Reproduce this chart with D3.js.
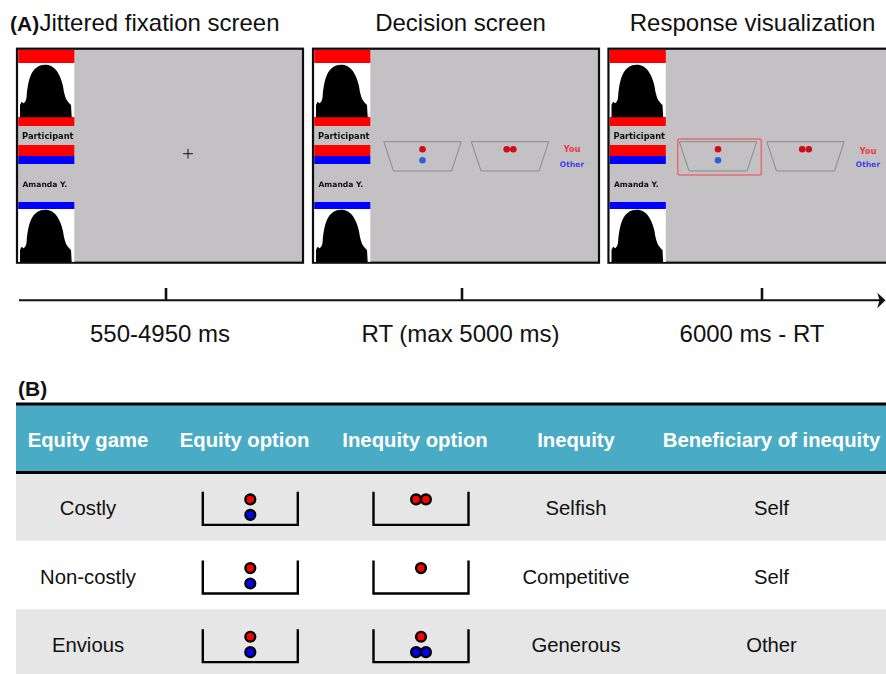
<!DOCTYPE html>
<html>
<head>
<meta charset="utf-8">
<script src="https://cdn.jsdelivr.net/npm/d3@7"></script>
<style>
  html, body { margin: 0; padding: 0; background: #fff; overflow: hidden; }
  svg { display: block; }
  text { font-family: "Liberation Sans", Arial, sans-serif; fill: #111; }
</style>
</head>
<body>
<svg width="886" height="674"></svg>
<script>
// panel A
let screenTitles = ["Jittered fixation screen", "Decision screen", "Response visualization"];
let timeLabels = ["550-4950 ms", "RT (max 5000 ms)", "6000 ms - RT"];
let playerNames = ["Participant", "Amanda Y."];
let legendNames = ["You", "Other"];

// panel B
let columns = ["Equity game", "Equity option", "Inequity option", "Inequity", "Beneficiary of inequity"];
let games = ["Costly", "Non-costly", "Envious"];
let inequity = ["Selfish", "Competitive", "Generous"];
let beneficiary = ["Self", "Self", "Other"];

// tokens in each option, [you, other]
let equityTokens = [[1, 1], [1, 1], [1, 1]];
let inequityTokens = [[2, 0], [1, 0], [1, 2]];

let svg = d3.select("svg");

let screenX = d3.scaleOrdinal().domain(screenTitles).range([16, 312, 607.5]);
let titleX = d3.scaleOrdinal().domain(screenTitles).range([159.5, 460.5, 752.5]);
let tickX = d3.scaleOrdinal().domain(timeLabels).range([166, 462, 762]);
let labelX = d3.scaleOrdinal().domain(timeLabels).range([160, 460.5, 752]);

let colX = d3.scaleOrdinal().domain(columns).range([88, 244.5, 415, 576, 771.5]);
let bucketX = d3.scaleOrdinal().domain(columns).range([88, 250.3, 421, 576, 771.5]);
let rowY = d3.scaleBand().domain(games).range([472, 678]);

// head outline, local to its white box
let silhouette = [[1.7, 41], [3.7, 37.7], [5, 39.3], [7.7, 36], [8.7, 27.7], [10.4, 17.7], [13.7, 8.7], [17.7, 4], [22.7, 1.3], [27, 0.7], [32.7, 2], [37.7, 6], [41.7, 12.7], [44.4, 21], [46, 29.3], [48.4, 36], [52.7, 41]];
let head = d3.line().curve(d3.curveCatmullRom);

let defs = svg.append("defs");
defs.append("clipPath").attr("id", "page")
  .append("rect").attr("width", 886).attr("height", 674);
defs.append("filter").attr("id", "soft")
  .attr("x", "-2%").attr("y", "-2%").attr("width", "104%").attr("height", "104%")
  .append("feGaussianBlur").attr("stdDeviation", 0.35);

// titles
svg.append("text").attr("x", 10).attr("y", 31)
  .style("font-size", "21px").style("font-weight", "bold").text("(A)");
svg.append("g").selectAll("text").data(screenTitles).join("text")
  .attr("x", (d) => titleX(d)).attr("y", 31)
  .attr("text-anchor", "middle")
  .style("font-size", "24px")
  .text((d) => d);

// screens
screenTitles.forEach((title, s) => {
  let g = svg.append("g")
    .attr("transform", `translate(${screenX(title)},48)`)
    .attr("filter", "url(#soft)");

  g.append("rect").attr("x", 1).attr("y", 0.7).attr("width", 286).attr("height", 214)
    .style("fill", "#c4c1c5").style("stroke", "#0a0a0a").style("stroke-width", 2.2);

  let side = g.append("g").attr("transform", "translate(2.3,0)");
  let bands = [
    [2, 15, "#ff0000"], [15, 69, "#ffffff"], [69, 78, "#ff0000"],
    [97, 108, "#ff0000"], [108, 116, "#0000ff"],
    [154, 161, "#0000ff"], [161, 214, "#ffffff"]
  ];
  side.selectAll("rect").data(bands).join("rect")
    .attr("x", 0).attr("width", 56)
    .attr("y", (d) => d[0]).attr("height", (d) => d[1] - d[0])
    .style("fill", (d) => d[2]);

  side.selectAll("path").data([16, 161]).join("path")
    .attr("transform", (d) => `translate(0,${d})`)
    .attr("d", head(silhouette) + "L53.4,53.3L1.7,53.3Z")
    .style("fill", "#000");

  side.selectAll("text").data(playerNames).join("text")
    .attr("x", (d, i) => (i == 0 ? 29.5 : 26.5))
    .attr("y", (d, i) => (i == 0 ? 91 : 138.5))
    .attr("text-anchor", "middle")
    .style("font-family", "'DejaVu Sans'")
    .style("font-weight", "bold")
    .style("font-size", (d, i) => (i == 0 ? "8.3px" : "7.6px"))
    .text((d) => d);

  if (s == 0) {
    g.append("path").attr("d", "M167.2,105.7H176.8M172,100.9V110.5")
      .style("stroke", "#111").style("stroke-width", 1).style("fill", "none");
    return;
  }

  if (s == 2) {
    g.append("rect").attr("x", 70.2).attr("y", 91).attr("width", 83.6).attr("height", 36)
      .attr("rx", 2)
      .style("fill", "none").style("stroke", "#e46c70").style("stroke-width", 1.5);
  }

  // the two trapezoid options
  let optionX = d3.scaleOrdinal().domain([0, 1]).range([110.5, 198]);
  let trapezoid = [[-38.7, 93.7], [38.7, 93.7], [29, 123], [-29, 123]];
  let tokenSets = [equityTokens[0], inequityTokens[0]];
  tokenSets.forEach((tokens, o) => {
    let opt = g.append("g").attr("transform", `translate(${optionX(o)},0)`);
    opt.append("path").attr("d", d3.line()(trapezoid) + "Z")
      .style("fill", "none").style("stroke", "#8b898c").style("stroke-width", 1);
    d3.range(tokens[0]).forEach((i) => {
      opt.append("circle")
        .attr("cx", (i - (tokens[0] - 1) / 2) * 6.6)
        .attr("cy", 101.2).attr("r", 3.3)
        .style("fill", "#cf0a12");
    });
    d3.range(tokens[1]).forEach((i) => {
      opt.append("circle")
        .attr("cx", (i - (tokens[1] - 1) / 2) * 6.6)
        .attr("cy", 112.3).attr("r", 3.3)
        .style("fill", "#2a62d8");
    });
  });

  g.selectAll(".legend").data(legendNames).join("text")
    .attr("x", s == 1 ? 260 : 260.5)
    .attr("y", (d, i) => (i == 0 ? (s == 1 ? 104 : 106) : 119))
    .attr("text-anchor", "middle")
    .style("font-family", "'DejaVu Sans'")
    .style("font-weight", "bold")
    .style("font-size", (d, i) => (i == 0 ? "8.4px" : "7.6px"))
    .style("fill", (d, i) => (i == 0 ? "#f0343c" : "#3a3ff0"))
    .text((d) => d);
});

// timeline
svg.append("line").attr("x1", 19).attr("x2", 882).attr("y1", 300.3).attr("y2", 300.3)
  .style("stroke", "#111").style("stroke-width", 2);
svg.append("path").attr("d", "M877.3,292.7L885.5,300.3L877.3,308.3L879.5,300.3Z")
  .style("fill", "#111");
svg.append("g").selectAll("line").data(timeLabels).join("line")
  .attr("x1", (d) => tickX(d)).attr("x2", (d) => tickX(d))
  .attr("y1", 288).attr("y2", 300)
  .style("stroke", "#111").style("stroke-width", 2.6);
svg.append("g").selectAll("text").data(timeLabels).join("text")
  .attr("x", (d) => labelX(d)).attr("y", 342)
  .attr("text-anchor", "middle")
  .style("font-size", "24px")
  .text((d) => d);

// table
svg.append("text").attr("x", 18).attr("y", 396)
  .style("font-size", "21px").style("font-weight", "bold").text("(B)");

let table = svg.append("g").attr("clip-path", "url(#page)");
table.append("rect").attr("x", 16).attr("y", 405).attr("width", 870).attr("height", 67)
  .style("fill", "#4aabc5");
table.selectAll(".row").data(games.filter((d, i) => i != 1)).join("rect")
  .attr("x", 16).attr("width", 870)
  .attr("y", (d) => rowY(d)).attr("height", rowY.bandwidth())
  .style("fill", "#e6e6e6");
table.selectAll(".rule").data([404, 472.5]).join("line")
  .attr("x1", 16).attr("x2", 886)
  .attr("y1", (d) => d).attr("y2", (d) => d)
  .style("stroke", "#000").style("stroke-width", 3);

table.selectAll(".head").data(columns).join("text")
  .attr("x", (d) => colX(d)).attr("y", 447)
  .attr("text-anchor", "middle")
  .style("font-size", "20.3px").style("font-weight", "bold").style("fill", "#fff")
  .text((d) => d);

[[columns[0], games], [columns[3], inequity], [columns[4], beneficiary]].forEach(([col, vals]) => {
  table.append("g").selectAll("text").data(vals).join("text")
    .attr("x", colX(col))
    .attr("y", (d, i) => rowY(games[i]) + rowY.bandwidth() / 2 + 8.7)
    .attr("text-anchor", "middle")
    .style("font-size", "20.3px")
    .text((d) => d);
});

// buckets with tokens
function bucket(col, tokens, game) {
  let cy = rowY(game) + rowY.bandwidth() / 2;
  let b = table.append("g").attr("transform", `translate(${bucketX(col)},${cy})`);
  b.append("path").attr("d", "M-47.5,-14.5V18.5H47.5V-14.5")
    .style("fill", "none").style("stroke", "#000").style("stroke-width", 2.4);
  let spread = (n) => d3.range(n).map((i) => (i - (n - 1) / 2) * 9.8);
  let dots = spread(tokens[0]).map((x) => [x, -6.9, "#ff0000"])
    .concat(spread(tokens[1]).map((x) => [x, 8.5, "#0000ff"]));
  b.selectAll("circle").data(dots).join("circle")
    .attr("cx", (d) => d[0]).attr("cy", (d) => d[1]).attr("r", 4.9)
    .style("fill", (d) => d[2])
    .style("stroke", "#000").style("stroke-width", 2.4);
}
games.forEach((game, i) => {
  bucket(columns[1], equityTokens[i], game);
  bucket(columns[2], inequityTokens[i], game);
});
</script>
</body>
</html>
